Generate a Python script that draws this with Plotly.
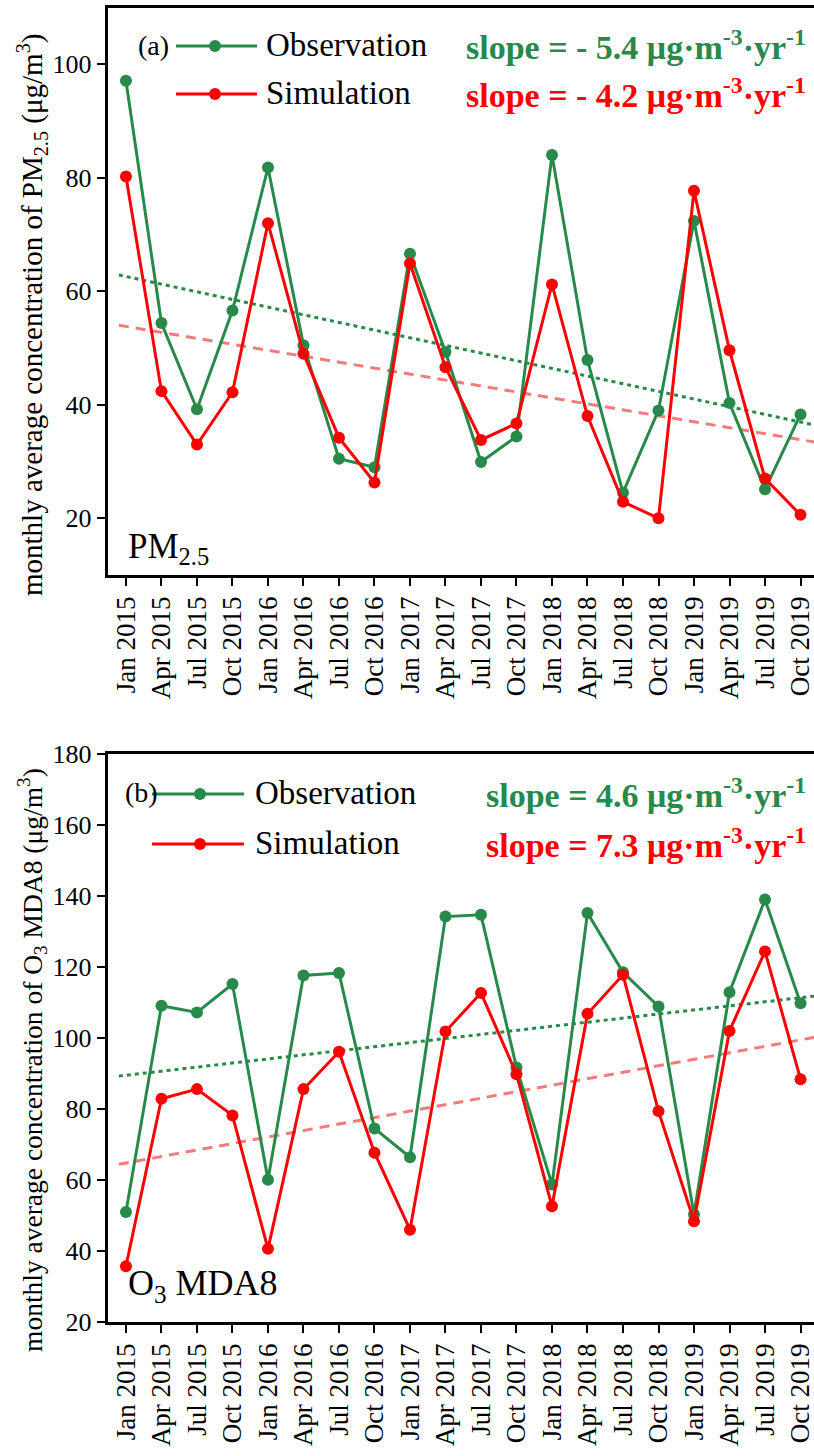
import plotly.graph_objects as go

# ---------------- data ----------------
months = ["Jan 2015", "Apr 2015", "Jul 2015", "Oct 2015",
          "Jan 2016", "Apr 2016", "Jul 2016", "Oct 2016",
          "Jan 2017", "Apr 2017", "Jul 2017", "Oct 2017",
          "Jan 2018", "Apr 2018", "Jul 2018", "Oct 2018",
          "Jan 2019", "Apr 2019", "Jul 2019", "Oct 2019"]

pm_obs = [97.1, 54.4, 39.2, 56.6, 81.8, 50.5, 30.5, 29.0, 66.6, 49.3,
          29.9, 34.4, 84.0, 47.9, 24.5, 39.0, 72.4, 40.3, 25.1, 38.3]
pm_sim = [80.2, 42.4, 33.0, 42.2, 72.0, 49.0, 34.2, 26.3, 64.9, 46.6,
          33.8, 36.7, 61.2, 38.0, 22.9, 20.0, 77.7, 49.6, 27.0, 20.6]

o3_obs = [51.0, 109.1, 107.2, 115.2, 60.1, 117.6, 118.3, 74.5, 66.4, 134.2,
          134.7, 91.7, 58.7, 135.2, 118.5, 108.9, 50.3, 112.9, 139.0, 109.8]
o3_sim = [35.7, 82.9, 85.6, 78.2, 40.6, 85.6, 96.1, 67.7, 46.0, 101.8,
          112.7, 89.8, 52.6, 106.8, 117.8, 79.4, 48.4, 102.0, 124.4, 88.4]

# linear trends: value at Jan 2015 and slope per year (from labels)
pm_obs_trend = (62.6, -5.4)
pm_sim_trend = (53.8, -4.2)
o3_obs_trend = (89.5, 4.6)
o3_sim_trend = (64.8, 7.3)
trend_span = [-0.2, 19.4]  # in quarter-index units

pm_yticks = [20, 40, 60, 80, 100]
o3_yticks = [20, 40, 60, 80, 100, 120, 140, 160, 180]

# ---------------- styles ----------------
W, H = 814, 1456
FONT = "Liberation Serif, Times New Roman, serif"
GREEN = "#27894a"
RED = "#ff0000"
TREND_RED = "#f37b7b"


def px(x):
    return x / W


def py(y):
    return 1 - y / H


xidx = list(range(len(months)))

fig = go.Figure()


def trend_xy(tr):
    a, s = tr
    xs = trend_span
    return xs, [a + s * x / 4.0 for x in xs]


def add_panel(obs, sim, tr_o, tr_s, xa, ya):
    tx, ty = trend_xy(tr_o)
    fig.add_trace(go.Scatter(x=tx, y=ty, mode="lines", xaxis=xa, yaxis=ya,
                             line=dict(color=GREEN, width=3, dash="4px,4px"),
                             showlegend=False, hoverinfo="skip"))
    tx, ty = trend_xy(tr_s)
    fig.add_trace(go.Scatter(x=tx, y=ty, mode="lines", xaxis=xa, yaxis=ya,
                             line=dict(color=TREND_RED, width=3, dash="10px,7px"),
                             showlegend=False, hoverinfo="skip"))
    fig.add_trace(go.Scatter(x=xidx, y=obs, mode="lines+markers", xaxis=xa, yaxis=ya,
                             line=dict(color=GREEN, width=3),
                             marker=dict(color=GREEN, size=12),
                             name="Observation", showlegend=False))
    fig.add_trace(go.Scatter(x=xidx, y=sim, mode="lines+markers", xaxis=xa, yaxis=ya,
                             line=dict(color=RED, width=3),
                             marker=dict(color=RED, size=12),
                             name="Simulation", showlegend=False))


add_panel(pm_obs, pm_sim, pm_obs_trend, pm_sim_trend, "x", "y")
add_panel(o3_obs, o3_sim, o3_obs_trend, o3_sim_trend, "x2", "y2")

xcommon = dict(range=[-0.52, 19.38], tickmode="array", tickvals=xidx, ticktext=months,
               tickangle=-90, ticks="outside", ticklen=8, tickwidth=2, tickcolor="black",
               showline=True, linewidth=2.5, linecolor="black", mirror=True,
               showgrid=False, zeroline=False, ticklabeloverflow="allow",
               tickfont=dict(family=FONT, size=27, color="black"),
               domain=[px(107.5), 1.0], automargin=False)
ycommon = dict(ticks="outside", ticklen=8, tickwidth=2, tickcolor="black",
               showline=True, linewidth=2.5, linecolor="black", mirror=False,
               showgrid=False, zeroline=False,
               tickfont=dict(family=FONT, size=26, color="black"), automargin=False)

fig.update_layout(
    width=W, height=H, margin=dict(l=0, r=0, t=0, b=0),
    paper_bgcolor="white", plot_bgcolor="white", showlegend=False,
    font=dict(family=FONT),
    xaxis=dict(**xcommon, anchor="y"),
    yaxis=dict(**ycommon, range=[10, 110], tickvals=pm_yticks,
               domain=[py(575), py(7.5)], anchor="x"),
    xaxis2=dict(**xcommon, anchor="y2"),
    yaxis2=dict(**ycommon, range=[20, 180], tickvals=o3_yticks,
                domain=[py(1322), py(754)], anchor="x2"),
)

ann = []
shapes = []


def text(x, y, s, size, color="black", anchor="left", bold=False, angle=0):
    ann.append(dict(xref="paper", yref="paper", x=px(x), y=py(y), text=s,
                    showarrow=False, xanchor=anchor, yanchor="middle", textangle=angle,
                    font=dict(family=FONT, size=size, color=color,
                              weight="bold" if bold else "normal")))


def legend_sample(x0, x1, xm, y, color):
    shapes.append(dict(type="line", xref="paper", yref="paper",
                       x0=px(x0), x1=px(x1), y0=py(y), y1=py(y),
                       line=dict(color=color, width=3)))
    r = 6
    shapes.append(dict(type="circle", xref="paper", yref="paper",
                       x0=px(xm - r), x1=px(xm + r), y0=py(y + r), y1=py(y - r),
                       fillcolor=color, line=dict(color=color, width=0)))


SLOPE_SIZE = 34

# panel (a)
text(136, 45, "(a)", 28)
legend_sample(176, 257, 215, 46, GREEN)
legend_sample(176, 257, 215, 94, RED)
text(264, 45, "Observation", 33)
text(264, 93, "Simulation", 33)
text(808, 45, "slope = - 5.4 μg·m<sup>-3</sup>·yr<sup>-1</sup>", SLOPE_SIZE, GREEN, "right", True)
text(808, 93, "slope = - 4.2 μg·m<sup>-3</sup>·yr<sup>-1</sup>", SLOPE_SIZE, RED, "right", True)
text(126, 548, "PM<sub>2.5</sub>", 35)
text(32, 315, "monthly average concentration of PM<sub>2.5</sub> (μg/m<sup>3</sup>)", 29,
     angle=-90, anchor="center")

# panel (b)
text(123, 793, "(b)", 28)
legend_sample(152, 244, 200, 794, GREEN)
legend_sample(152, 244, 200, 844, RED)
text(253, 793, "Observation", 33)
text(253, 843, "Simulation", 33)
text(808, 793, "slope = 4.6 μg·m<sup>-3</sup>·yr<sup>-1</sup>", SLOPE_SIZE, GREEN, "right", True)
text(808, 843, "slope = 7.3 μg·m<sup>-3</sup>·yr<sup>-1</sup>", SLOPE_SIZE, RED, "right", True)
text(126, 1285, "O<sub>3</sub> MDA8", 36)
text(32, 1060, "monthly average concentration of O<sub>3</sub> MDA8 (μg/m<sup>3</sup>)", 27.5,
     angle=-90, anchor="center")

fig.update_layout(annotations=ann, shapes=shapes)

fig.write_html("out.html", config={"displayModeBar": False},
               post_script="document.body.style.margin='0px';")
